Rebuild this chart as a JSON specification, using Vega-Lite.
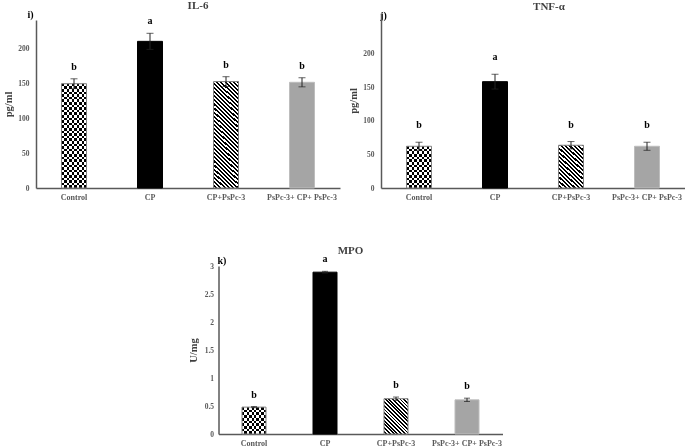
{
"$schema": "https://vega.github.io/schema/vega-lite/v6.json",
"padding": {"left": 3, "top": 0, "right": 0, "bottom": 0},
"background": "white",
"config": {
 "view": {"stroke": null},
 "font": "Liberation Serif",
 "axis": {"domainColor": "#595959", "domainWidth": 1.5, "ticks": false, "grid": false, "labelFont": "Liberation Serif", "labelFontSize": 8, "labelFontWeight": "bold", "labelColor": "#595959", "titleFont": "Liberation Serif", "titleFontWeight": "bold", "titleColor": "#404040", "labelOverlap": false},
 "axisX": {"labelAngle": 0, "labelPadding": 5, "titleAngle": 0, "titleFontSize": 10, "titleAlign": "center", "titleBaseline": "alphabetic", "titleColor": "#000000"},
 "axisY": {"labelPadding": 7, "labelFontSize": 7.5, "titleFontSize": 10.5, "titlePadding": 4},
 "title": {"font": "Liberation Serif", "fontSize": 11, "fontWeight": "bold", "color": "#404040", "anchor": "middle", "frame": "group", "baseline": "bottom"}
},
"datasets": {
 "il6": [
  {"group": "Control", "value": 149, "lo": 142, "hi": 156, "letter": "b"},
  {"group": "CP", "value": 209.5, "lo": 198, "hi": 221, "letter": "a"},
  {"group": "CP+PsPc-3", "value": 152, "lo": 145, "hi": 159, "letter": "b"},
  {"group": "PsPc-3+ CP+ PsPc-3", "value": 151, "lo": 144.5, "hi": 157.5, "letter": "b"}
 ],
 "tnf": [
  {"group": "Control", "value": 62, "lo": 56, "hi": 68, "letter": "b"},
  {"group": "CP", "value": 158, "lo": 147, "hi": 169, "letter": "a"},
  {"group": "CP+PsPc-3", "value": 63.5, "lo": 58, "hi": 69, "letter": "b"},
  {"group": "PsPc-3+ CP+ PsPc-3", "value": 62, "lo": 56, "hi": 68, "letter": "b"}
 ],
 "mpo": [
  {"group": "Control", "value": 0.48, "lo": 0.47, "hi": 0.49, "letter": "b"},
  {"group": "CP", "value": 2.89, "lo": 2.875, "hi": 2.905, "letter": "a"},
  {"group": "CP+PsPc-3", "value": 0.63, "lo": 0.6, "hi": 0.66, "letter": "b"},
  {"group": "PsPc-3+ CP+ PsPc-3", "value": 0.61, "lo": 0.58, "hi": 0.64, "letter": "b"}
 ]
},
"center": true,
"spacing": 44,
"vconcat": [
 {
  "spacing": 8,
  "hconcat": [
   {
    "data": {"name": "il6"},
    "width": 304, "height": 175,
    "title": {"text": "IL-6", "dx": 10, "offset": -2},
    "encoding": {
     "x": {"field": "group", "type": "nominal", "sort": null, "scale": {"paddingInner": 0, "paddingOuter": 0},
       "axis": {"title": "i)", "titleX": -6, "titleY": -171}}
    },
    "layer": [
     {"mark": {"type": "bar", "width": 25},
      "encoding": {
       "y": {"field": "value", "type": "quantitative", "title": "pg/ml", "scale": {"domain": [0, 229], "range": [175, 7]}, "axis": {"values": [0, 50, 100, 150, 200]}},
       "fill": {"field": "group", "type": "nominal", "legend": null, "scale": {"domain": ["Control", "CP", "CP+PsPc-3", "PsPc-3+ CP+ PsPc-3"], "range": ["#ffffff", "#000000", "#ffffff", "#a5a5a5"]}}
      }},
     {"transform": [{"filter": "datum.group == 'Control'"}],
      "mark": {"type": "bar", "width": 25, "fill": {"gradient": "linear", "x1": 0, "y1": 0, "x2": 1, "y2": 0, "stops": [{"offset":0,"color":"#000"},{"offset":0.1,"color":"#000"},{"offset":0.1,"color":"#fff"},{"offset":0.2,"color":"#fff"},{"offset":0.2,"color":"#000"},{"offset":0.3,"color":"#000"},{"offset":0.3,"color":"#fff"},{"offset":0.4,"color":"#fff"},{"offset":0.4,"color":"#000"},{"offset":0.5,"color":"#000"},{"offset":0.5,"color":"#fff"},{"offset":0.6,"color":"#fff"},{"offset":0.6,"color":"#000"},{"offset":0.7,"color":"#000"},{"offset":0.7,"color":"#fff"},{"offset":0.8,"color":"#fff"},{"offset":0.8,"color":"#000"},{"offset":0.9,"color":"#000"},{"offset":0.9,"color":"#fff"},{"offset":1,"color":"#fff"}]}},
      "encoding": {"y": {"field": "value", "type": "quantitative", "title": "pg/ml", "axis": {"values": [0, 50, 100, 150, 200]}}}},
     {"transform": [{"filter": "datum.group == 'Control'"}],
      "mark": {"type": "bar", "width": 25, "blend": "difference", "fill": {"gradient": "linear", "x1": 0, "y1": 0, "x2": 0, "y2": 1, "stops": [{"offset":0,"color":"#000"},{"offset":0.025,"color":"#000"},{"offset":0.025,"color":"#fff"},{"offset":0.05,"color":"#fff"},{"offset":0.05,"color":"#000"},{"offset":0.075,"color":"#000"},{"offset":0.075,"color":"#fff"},{"offset":0.1,"color":"#fff"},{"offset":0.1,"color":"#000"},{"offset":0.125,"color":"#000"},{"offset":0.125,"color":"#fff"},{"offset":0.15,"color":"#fff"},{"offset":0.15,"color":"#000"},{"offset":0.175,"color":"#000"},{"offset":0.175,"color":"#fff"},{"offset":0.2,"color":"#fff"},{"offset":0.2,"color":"#000"},{"offset":0.225,"color":"#000"},{"offset":0.225,"color":"#fff"},{"offset":0.25,"color":"#fff"},{"offset":0.25,"color":"#000"},{"offset":0.275,"color":"#000"},{"offset":0.275,"color":"#fff"},{"offset":0.3,"color":"#fff"},{"offset":0.3,"color":"#000"},{"offset":0.325,"color":"#000"},{"offset":0.325,"color":"#fff"},{"offset":0.35,"color":"#fff"},{"offset":0.35,"color":"#000"},{"offset":0.375,"color":"#000"},{"offset":0.375,"color":"#fff"},{"offset":0.4,"color":"#fff"},{"offset":0.4,"color":"#000"},{"offset":0.425,"color":"#000"},{"offset":0.425,"color":"#fff"},{"offset":0.45,"color":"#fff"},{"offset":0.45,"color":"#000"},{"offset":0.475,"color":"#000"},{"offset":0.475,"color":"#fff"},{"offset":0.5,"color":"#fff"},{"offset":0.5,"color":"#000"},{"offset":0.525,"color":"#000"},{"offset":0.525,"color":"#fff"},{"offset":0.55,"color":"#fff"},{"offset":0.55,"color":"#000"},{"offset":0.575,"color":"#000"},{"offset":0.575,"color":"#fff"},{"offset":0.6,"color":"#fff"},{"offset":0.6,"color":"#000"},{"offset":0.625,"color":"#000"},{"offset":0.625,"color":"#fff"},{"offset":0.65,"color":"#fff"},{"offset":0.65,"color":"#000"},{"offset":0.675,"color":"#000"},{"offset":0.675,"color":"#fff"},{"offset":0.7,"color":"#fff"},{"offset":0.7,"color":"#000"},{"offset":0.725,"color":"#000"},{"offset":0.725,"color":"#fff"},{"offset":0.75,"color":"#fff"},{"offset":0.75,"color":"#000"},{"offset":0.775,"color":"#000"},{"offset":0.775,"color":"#fff"},{"offset":0.8,"color":"#fff"},{"offset":0.8,"color":"#000"},{"offset":0.825,"color":"#000"},{"offset":0.825,"color":"#fff"},{"offset":0.85,"color":"#fff"},{"offset":0.85,"color":"#000"},{"offset":0.875,"color":"#000"},{"offset":0.875,"color":"#fff"},{"offset":0.9,"color":"#fff"},{"offset":0.9,"color":"#000"},{"offset":0.925,"color":"#000"},{"offset":0.925,"color":"#fff"},{"offset":0.95,"color":"#fff"},{"offset":0.95,"color":"#000"},{"offset":0.975,"color":"#000"},{"offset":0.975,"color":"#fff"},{"offset":1,"color":"#fff"}]}},
      "encoding": {"y": {"field": "value", "type": "quantitative", "title": "pg/ml", "axis": {"values": [0, 50, 100, 150, 200]}}}},
     {"transform": [{"filter": "datum.group == 'CP+PsPc-3'"}],
      "mark": {"type": "bar", "width": 25, "fill": {"gradient": "linear", "x1": 1, "y1": 0, "x2": 0.7386, "y2": 1.1657, "stops": [{"offset":0,"color":"#000"},{"offset":0.015625,"color":"#000"},{"offset":0.015625,"color":"#fff"},{"offset":0.03125,"color":"#fff"},{"offset":0.03125,"color":"#000"},{"offset":0.046875,"color":"#000"},{"offset":0.046875,"color":"#fff"},{"offset":0.0625,"color":"#fff"},{"offset":0.0625,"color":"#000"},{"offset":0.078125,"color":"#000"},{"offset":0.078125,"color":"#fff"},{"offset":0.09375,"color":"#fff"},{"offset":0.09375,"color":"#000"},{"offset":0.109375,"color":"#000"},{"offset":0.109375,"color":"#fff"},{"offset":0.125,"color":"#fff"},{"offset":0.125,"color":"#000"},{"offset":0.140625,"color":"#000"},{"offset":0.140625,"color":"#fff"},{"offset":0.15625,"color":"#fff"},{"offset":0.15625,"color":"#000"},{"offset":0.171875,"color":"#000"},{"offset":0.171875,"color":"#fff"},{"offset":0.1875,"color":"#fff"},{"offset":0.1875,"color":"#000"},{"offset":0.203125,"color":"#000"},{"offset":0.203125,"color":"#fff"},{"offset":0.21875,"color":"#fff"},{"offset":0.21875,"color":"#000"},{"offset":0.234375,"color":"#000"},{"offset":0.234375,"color":"#fff"},{"offset":0.25,"color":"#fff"},{"offset":0.25,"color":"#000"},{"offset":0.265625,"color":"#000"},{"offset":0.265625,"color":"#fff"},{"offset":0.28125,"color":"#fff"},{"offset":0.28125,"color":"#000"},{"offset":0.296875,"color":"#000"},{"offset":0.296875,"color":"#fff"},{"offset":0.3125,"color":"#fff"},{"offset":0.3125,"color":"#000"},{"offset":0.328125,"color":"#000"},{"offset":0.328125,"color":"#fff"},{"offset":0.34375,"color":"#fff"},{"offset":0.34375,"color":"#000"},{"offset":0.359375,"color":"#000"},{"offset":0.359375,"color":"#fff"},{"offset":0.375,"color":"#fff"},{"offset":0.375,"color":"#000"},{"offset":0.390625,"color":"#000"},{"offset":0.390625,"color":"#fff"},{"offset":0.40625,"color":"#fff"},{"offset":0.40625,"color":"#000"},{"offset":0.421875,"color":"#000"},{"offset":0.421875,"color":"#fff"},{"offset":0.4375,"color":"#fff"},{"offset":0.4375,"color":"#000"},{"offset":0.453125,"color":"#000"},{"offset":0.453125,"color":"#fff"},{"offset":0.46875,"color":"#fff"},{"offset":0.46875,"color":"#000"},{"offset":0.484375,"color":"#000"},{"offset":0.484375,"color":"#fff"},{"offset":0.5,"color":"#fff"},{"offset":0.5,"color":"#000"},{"offset":0.515625,"color":"#000"},{"offset":0.515625,"color":"#fff"},{"offset":0.53125,"color":"#fff"},{"offset":0.53125,"color":"#000"},{"offset":0.546875,"color":"#000"},{"offset":0.546875,"color":"#fff"},{"offset":0.5625,"color":"#fff"},{"offset":0.5625,"color":"#000"},{"offset":0.578125,"color":"#000"},{"offset":0.578125,"color":"#fff"},{"offset":0.59375,"color":"#fff"},{"offset":0.59375,"color":"#000"},{"offset":0.609375,"color":"#000"},{"offset":0.609375,"color":"#fff"},{"offset":0.625,"color":"#fff"},{"offset":0.625,"color":"#000"},{"offset":0.640625,"color":"#000"},{"offset":0.640625,"color":"#fff"},{"offset":0.65625,"color":"#fff"},{"offset":0.65625,"color":"#000"},{"offset":0.671875,"color":"#000"},{"offset":0.671875,"color":"#fff"},{"offset":0.6875,"color":"#fff"},{"offset":0.6875,"color":"#000"},{"offset":0.703125,"color":"#000"},{"offset":0.703125,"color":"#fff"},{"offset":0.71875,"color":"#fff"},{"offset":0.71875,"color":"#000"},{"offset":0.734375,"color":"#000"},{"offset":0.734375,"color":"#fff"},{"offset":0.75,"color":"#fff"},{"offset":0.75,"color":"#000"},{"offset":0.765625,"color":"#000"},{"offset":0.765625,"color":"#fff"},{"offset":0.78125,"color":"#fff"},{"offset":0.78125,"color":"#000"},{"offset":0.796875,"color":"#000"},{"offset":0.796875,"color":"#fff"},{"offset":0.8125,"color":"#fff"},{"offset":0.8125,"color":"#000"},{"offset":0.828125,"color":"#000"},{"offset":0.828125,"color":"#fff"},{"offset":0.84375,"color":"#fff"},{"offset":0.84375,"color":"#000"},{"offset":0.859375,"color":"#000"},{"offset":0.859375,"color":"#fff"},{"offset":0.875,"color":"#fff"},{"offset":0.875,"color":"#000"},{"offset":0.890625,"color":"#000"},{"offset":0.890625,"color":"#fff"},{"offset":0.90625,"color":"#fff"},{"offset":0.90625,"color":"#000"},{"offset":0.921875,"color":"#000"},{"offset":0.921875,"color":"#fff"},{"offset":0.9375,"color":"#fff"},{"offset":0.9375,"color":"#000"},{"offset":0.953125,"color":"#000"},{"offset":0.953125,"color":"#fff"},{"offset":0.96875,"color":"#fff"},{"offset":0.96875,"color":"#000"},{"offset":0.984375,"color":"#000"},{"offset":0.984375,"color":"#fff"},{"offset":1,"color":"#fff"}]}},
      "encoding": {"y": {"field": "value", "type": "quantitative", "title": "pg/ml", "axis": {"values": [0, 50, 100, 150, 200]}}}},
     {"mark": {"type": "bar", "width": 25, "fillOpacity": 0, "strokeWidth": 1},
      "encoding": {
       "y": {"field": "value", "type": "quantitative", "title": "pg/ml", "axis": {"values": [0, 50, 100, 150, 200]}},
       "stroke": {"field": "group", "type": "nominal", "legend": null, "scale": {"domain": ["Control", "CP", "CP+PsPc-3", "PsPc-3+ CP+ PsPc-3"], "range": ["#808080", "#000000", "#808080", "#bdbdbd"]}}
      }},
     {"mark": {"type": "errorbar", "ticks": true, "size": 7, "thickness": 1, "color": "#222222"},
      "encoding": {"y": {"field": "lo", "type": "quantitative", "title": "pg/ml", "axis": {"values": [0, 50, 100, 150, 200]}}, "y2": {"field": "hi"}}},
     {"mark": {"type": "text", "dy": -9, "fontSize": 10, "fontWeight": "bold", "font": "Liberation Serif", "color": "#000000", "baseline": "alphabetic"},
      "encoding": {"y": {"field": "hi", "type": "quantitative", "title": "pg/ml", "axis": {"values": [0, 50, 100, 150, 200]}}, "text": {"field": "letter"}}}
    ]
   },
   {
    "data": {"name": "tnf"},
    "width": 304, "height": 175,
    "title": {"text": "TNF-α", "dx": 16, "offset": -2},
    "encoding": {
     "x": {"field": "group", "type": "nominal", "sort": null, "scale": {"paddingInner": 0, "paddingOuter": 0},
       "axis": {"title": "j)", "titleX": 2, "titleY": -170}}
    },
    "layer": [
     {"mark": {"type": "bar", "width": 25},
      "encoding": {
       "y": {"field": "value", "type": "quantitative", "title": "pg/ml", "scale": {"domain": [0, 241]}, "axis": {"values": [0, 50, 100, 150, 200]}},
       "fill": {"field": "group", "type": "nominal", "legend": null, "scale": {"domain": ["Control", "CP", "CP+PsPc-3", "PsPc-3+ CP+ PsPc-3"], "range": ["#ffffff", "#000000", "#ffffff", "#a5a5a5"]}}
      }},
     {"transform": [{"filter": "datum.group == 'Control'"}],
      "mark": {"type": "bar", "width": 25, "fill": {"gradient": "linear", "x1": 0, "y1": 0, "x2": 1, "y2": 0, "stops": [{"offset":0,"color":"#000"},{"offset":0.1,"color":"#000"},{"offset":0.1,"color":"#fff"},{"offset":0.2,"color":"#fff"},{"offset":0.2,"color":"#000"},{"offset":0.3,"color":"#000"},{"offset":0.3,"color":"#fff"},{"offset":0.4,"color":"#fff"},{"offset":0.4,"color":"#000"},{"offset":0.5,"color":"#000"},{"offset":0.5,"color":"#fff"},{"offset":0.6,"color":"#fff"},{"offset":0.6,"color":"#000"},{"offset":0.7,"color":"#000"},{"offset":0.7,"color":"#fff"},{"offset":0.8,"color":"#fff"},{"offset":0.8,"color":"#000"},{"offset":0.9,"color":"#000"},{"offset":0.9,"color":"#fff"},{"offset":1,"color":"#fff"}]}},
      "encoding": {"y": {"field": "value", "type": "quantitative", "title": "pg/ml", "axis": {"values": [0, 50, 100, 150, 200]}}}},
     {"transform": [{"filter": "datum.group == 'Control'"}],
      "mark": {"type": "bar", "width": 25, "blend": "difference", "fill": {"gradient": "linear", "x1": 0, "y1": 0, "x2": 0, "y2": 1, "stops": [{"offset":0,"color":"#000"},{"offset":0.0625,"color":"#000"},{"offset":0.0625,"color":"#fff"},{"offset":0.125,"color":"#fff"},{"offset":0.125,"color":"#000"},{"offset":0.1875,"color":"#000"},{"offset":0.1875,"color":"#fff"},{"offset":0.25,"color":"#fff"},{"offset":0.25,"color":"#000"},{"offset":0.3125,"color":"#000"},{"offset":0.3125,"color":"#fff"},{"offset":0.375,"color":"#fff"},{"offset":0.375,"color":"#000"},{"offset":0.4375,"color":"#000"},{"offset":0.4375,"color":"#fff"},{"offset":0.5,"color":"#fff"},{"offset":0.5,"color":"#000"},{"offset":0.5625,"color":"#000"},{"offset":0.5625,"color":"#fff"},{"offset":0.625,"color":"#fff"},{"offset":0.625,"color":"#000"},{"offset":0.6875,"color":"#000"},{"offset":0.6875,"color":"#fff"},{"offset":0.75,"color":"#fff"},{"offset":0.75,"color":"#000"},{"offset":0.8125,"color":"#000"},{"offset":0.8125,"color":"#fff"},{"offset":0.875,"color":"#fff"},{"offset":0.875,"color":"#000"},{"offset":0.9375,"color":"#000"},{"offset":0.9375,"color":"#fff"},{"offset":1,"color":"#fff"}]}},
      "encoding": {"y": {"field": "value", "type": "quantitative", "title": "pg/ml", "axis": {"values": [0, 50, 100, 150, 200]}}}},
     {"transform": [{"filter": "datum.group == 'CP+PsPc-3'"}],
      "mark": {"type": "bar", "width": 25, "fill": {"gradient": "linear", "x1": 1, "y1": 0, "x2": 0.3492, "y2": 1.1909, "stops": [{"offset":0,"color":"#000"},{"offset":0.03125,"color":"#000"},{"offset":0.03125,"color":"#fff"},{"offset":0.0625,"color":"#fff"},{"offset":0.0625,"color":"#000"},{"offset":0.09375,"color":"#000"},{"offset":0.09375,"color":"#fff"},{"offset":0.125,"color":"#fff"},{"offset":0.125,"color":"#000"},{"offset":0.15625,"color":"#000"},{"offset":0.15625,"color":"#fff"},{"offset":0.1875,"color":"#fff"},{"offset":0.1875,"color":"#000"},{"offset":0.21875,"color":"#000"},{"offset":0.21875,"color":"#fff"},{"offset":0.25,"color":"#fff"},{"offset":0.25,"color":"#000"},{"offset":0.28125,"color":"#000"},{"offset":0.28125,"color":"#fff"},{"offset":0.3125,"color":"#fff"},{"offset":0.3125,"color":"#000"},{"offset":0.34375,"color":"#000"},{"offset":0.34375,"color":"#fff"},{"offset":0.375,"color":"#fff"},{"offset":0.375,"color":"#000"},{"offset":0.40625,"color":"#000"},{"offset":0.40625,"color":"#fff"},{"offset":0.4375,"color":"#fff"},{"offset":0.4375,"color":"#000"},{"offset":0.46875,"color":"#000"},{"offset":0.46875,"color":"#fff"},{"offset":0.5,"color":"#fff"},{"offset":0.5,"color":"#000"},{"offset":0.53125,"color":"#000"},{"offset":0.53125,"color":"#fff"},{"offset":0.5625,"color":"#fff"},{"offset":0.5625,"color":"#000"},{"offset":0.59375,"color":"#000"},{"offset":0.59375,"color":"#fff"},{"offset":0.625,"color":"#fff"},{"offset":0.625,"color":"#000"},{"offset":0.65625,"color":"#000"},{"offset":0.65625,"color":"#fff"},{"offset":0.6875,"color":"#fff"},{"offset":0.6875,"color":"#000"},{"offset":0.71875,"color":"#000"},{"offset":0.71875,"color":"#fff"},{"offset":0.75,"color":"#fff"},{"offset":0.75,"color":"#000"},{"offset":0.78125,"color":"#000"},{"offset":0.78125,"color":"#fff"},{"offset":0.8125,"color":"#fff"},{"offset":0.8125,"color":"#000"},{"offset":0.84375,"color":"#000"},{"offset":0.84375,"color":"#fff"},{"offset":0.875,"color":"#fff"},{"offset":0.875,"color":"#000"},{"offset":0.90625,"color":"#000"},{"offset":0.90625,"color":"#fff"},{"offset":0.9375,"color":"#fff"},{"offset":0.9375,"color":"#000"},{"offset":0.96875,"color":"#000"},{"offset":0.96875,"color":"#fff"},{"offset":1,"color":"#fff"}]}},
      "encoding": {"y": {"field": "value", "type": "quantitative", "title": "pg/ml", "axis": {"values": [0, 50, 100, 150, 200]}}}},
     {"mark": {"type": "bar", "width": 25, "fillOpacity": 0, "strokeWidth": 1},
      "encoding": {
       "y": {"field": "value", "type": "quantitative", "title": "pg/ml", "axis": {"values": [0, 50, 100, 150, 200]}},
       "stroke": {"field": "group", "type": "nominal", "legend": null, "scale": {"domain": ["Control", "CP", "CP+PsPc-3", "PsPc-3+ CP+ PsPc-3"], "range": ["#808080", "#000000", "#808080", "#bdbdbd"]}}
      }},
     {"mark": {"type": "errorbar", "ticks": true, "size": 7, "thickness": 1, "color": "#222222"},
      "encoding": {"y": {"field": "lo", "type": "quantitative", "title": "pg/ml", "axis": {"values": [0, 50, 100, 150, 200]}}, "y2": {"field": "hi"}}},
     {"mark": {"type": "text", "dy": -14, "fontSize": 10, "fontWeight": "bold", "font": "Liberation Serif", "color": "#000000", "baseline": "alphabetic"},
      "encoding": {"y": {"field": "hi", "type": "quantitative", "title": "pg/ml", "axis": {"values": [0, 50, 100, 150, 200]}}, "text": {"field": "letter"}}}
    ]
   }
  ]
 },
 {
  "data": {"name": "mpo"},
  "width": 284, "height": 168,
  "title": {"text": "MPO", "dx": -10, "offset": -2},
  "encoding": {
   "x": {"field": "group", "type": "nominal", "sort": null, "scale": {"paddingInner": 0, "paddingOuter": 0},
     "axis": {"title": "k)", "titleX": 3, "titleY": -171}}
  },
  "layer": [
   {"mark": {"type": "bar", "width": 24},
    "encoding": {
     "y": {"field": "value", "type": "quantitative", "title": "U/mg", "scale": {"domain": [0, 3]}, "axis": {"values": [0, 0.5, 1, 1.5, 2, 2.5, 3], "format": "~g", "labelPadding": 5, "titlePadding": 6}},
     "fill": {"field": "group", "type": "nominal", "legend": null, "scale": {"domain": ["Control", "CP", "CP+PsPc-3", "PsPc-3+ CP+ PsPc-3"], "range": ["#ffffff", "#000000", "#ffffff", "#a5a5a5"]}}
    }},
   {"transform": [{"filter": "datum.group == 'Control'"}],
    "mark": {"type": "bar", "width": 24, "fill": {"gradient": "linear", "x1": 0, "y1": 0, "x2": 1, "y2": 0, "stops": [{"offset":0,"color":"#000"},{"offset":0.1,"color":"#000"},{"offset":0.1,"color":"#fff"},{"offset":0.2,"color":"#fff"},{"offset":0.2,"color":"#000"},{"offset":0.3,"color":"#000"},{"offset":0.3,"color":"#fff"},{"offset":0.4,"color":"#fff"},{"offset":0.4,"color":"#000"},{"offset":0.5,"color":"#000"},{"offset":0.5,"color":"#fff"},{"offset":0.6,"color":"#fff"},{"offset":0.6,"color":"#000"},{"offset":0.7,"color":"#000"},{"offset":0.7,"color":"#fff"},{"offset":0.8,"color":"#fff"},{"offset":0.8,"color":"#000"},{"offset":0.9,"color":"#000"},{"offset":0.9,"color":"#fff"},{"offset":1,"color":"#fff"}]}},
    "encoding": {"y": {"field": "value", "type": "quantitative", "title": "U/mg", "axis": {"values": [0, 0.5, 1, 1.5, 2, 2.5, 3], "format": "~g", "labelPadding": 5, "titlePadding": 6}}}},
   {"transform": [{"filter": "datum.group == 'Control'"}],
    "mark": {"type": "bar", "width": 24, "blend": "difference", "fill": {"gradient": "linear", "x1": 0, "y1": 0, "x2": 0, "y2": 1, "stops": [{"offset":0,"color":"#000"},{"offset":0.1,"color":"#000"},{"offset":0.1,"color":"#fff"},{"offset":0.2,"color":"#fff"},{"offset":0.2,"color":"#000"},{"offset":0.3,"color":"#000"},{"offset":0.3,"color":"#fff"},{"offset":0.4,"color":"#fff"},{"offset":0.4,"color":"#000"},{"offset":0.5,"color":"#000"},{"offset":0.5,"color":"#fff"},{"offset":0.6,"color":"#fff"},{"offset":0.6,"color":"#000"},{"offset":0.7,"color":"#000"},{"offset":0.7,"color":"#fff"},{"offset":0.8,"color":"#fff"},{"offset":0.8,"color":"#000"},{"offset":0.9,"color":"#000"},{"offset":0.9,"color":"#fff"},{"offset":1,"color":"#fff"}]}},
    "encoding": {"y": {"field": "value", "type": "quantitative", "title": "U/mg", "axis": {"values": [0, 0.5, 1, 1.5, 2, 2.5, 3], "format": "~g", "labelPadding": 5, "titlePadding": 6}}}},
   {"transform": [{"filter": "datum.group == 'CP+PsPc-3'"}],
    "mark": {"type": "bar", "width": 24, "fill": {"gradient": "linear", "x1": 1, "y1": 0, "x2": 0.2186, "y2": 1.1487, "stops": [{"offset":0,"color":"#000"},{"offset":0.03125,"color":"#000"},{"offset":0.03125,"color":"#fff"},{"offset":0.0625,"color":"#fff"},{"offset":0.0625,"color":"#000"},{"offset":0.09375,"color":"#000"},{"offset":0.09375,"color":"#fff"},{"offset":0.125,"color":"#fff"},{"offset":0.125,"color":"#000"},{"offset":0.15625,"color":"#000"},{"offset":0.15625,"color":"#fff"},{"offset":0.1875,"color":"#fff"},{"offset":0.1875,"color":"#000"},{"offset":0.21875,"color":"#000"},{"offset":0.21875,"color":"#fff"},{"offset":0.25,"color":"#fff"},{"offset":0.25,"color":"#000"},{"offset":0.28125,"color":"#000"},{"offset":0.28125,"color":"#fff"},{"offset":0.3125,"color":"#fff"},{"offset":0.3125,"color":"#000"},{"offset":0.34375,"color":"#000"},{"offset":0.34375,"color":"#fff"},{"offset":0.375,"color":"#fff"},{"offset":0.375,"color":"#000"},{"offset":0.40625,"color":"#000"},{"offset":0.40625,"color":"#fff"},{"offset":0.4375,"color":"#fff"},{"offset":0.4375,"color":"#000"},{"offset":0.46875,"color":"#000"},{"offset":0.46875,"color":"#fff"},{"offset":0.5,"color":"#fff"},{"offset":0.5,"color":"#000"},{"offset":0.53125,"color":"#000"},{"offset":0.53125,"color":"#fff"},{"offset":0.5625,"color":"#fff"},{"offset":0.5625,"color":"#000"},{"offset":0.59375,"color":"#000"},{"offset":0.59375,"color":"#fff"},{"offset":0.625,"color":"#fff"},{"offset":0.625,"color":"#000"},{"offset":0.65625,"color":"#000"},{"offset":0.65625,"color":"#fff"},{"offset":0.6875,"color":"#fff"},{"offset":0.6875,"color":"#000"},{"offset":0.71875,"color":"#000"},{"offset":0.71875,"color":"#fff"},{"offset":0.75,"color":"#fff"},{"offset":0.75,"color":"#000"},{"offset":0.78125,"color":"#000"},{"offset":0.78125,"color":"#fff"},{"offset":0.8125,"color":"#fff"},{"offset":0.8125,"color":"#000"},{"offset":0.84375,"color":"#000"},{"offset":0.84375,"color":"#fff"},{"offset":0.875,"color":"#fff"},{"offset":0.875,"color":"#000"},{"offset":0.90625,"color":"#000"},{"offset":0.90625,"color":"#fff"},{"offset":0.9375,"color":"#fff"},{"offset":0.9375,"color":"#000"},{"offset":0.96875,"color":"#000"},{"offset":0.96875,"color":"#fff"},{"offset":1,"color":"#fff"}]}},
    "encoding": {"y": {"field": "value", "type": "quantitative", "title": "U/mg", "axis": {"values": [0, 0.5, 1, 1.5, 2, 2.5, 3], "format": "~g", "labelPadding": 5, "titlePadding": 6}}}},
   {"mark": {"type": "bar", "width": 24, "fillOpacity": 0, "strokeWidth": 1},
    "encoding": {
     "y": {"field": "value", "type": "quantitative", "title": "U/mg", "axis": {"values": [0, 0.5, 1, 1.5, 2, 2.5, 3], "format": "~g", "labelPadding": 5, "titlePadding": 6}},
     "stroke": {"field": "group", "type": "nominal", "legend": null, "scale": {"domain": ["Control", "CP", "CP+PsPc-3", "PsPc-3+ CP+ PsPc-3"], "range": ["#808080", "#000000", "#808080", "#bdbdbd"]}}
    }},
   {"mark": {"type": "errorbar", "ticks": true, "size": 6, "thickness": 1, "color": "#222222"},
    "encoding": {"y": {"field": "lo", "type": "quantitative", "title": "U/mg", "axis": {"values": [0, 0.5, 1, 1.5, 2, 2.5, 3], "format": "~g", "labelPadding": 5, "titlePadding": 6}}, "y2": {"field": "hi"}}},
   {"mark": {"type": "text", "dy": -9, "fontSize": 10, "fontWeight": "bold", "font": "Liberation Serif", "color": "#000000", "baseline": "alphabetic"},
    "encoding": {"y": {"field": "hi", "type": "quantitative", "title": "U/mg", "axis": {"values": [0, 0.5, 1, 1.5, 2, 2.5, 3], "format": "~g", "labelPadding": 5, "titlePadding": 6}}, "text": {"field": "letter"}}}
  ]
 }
]
}
